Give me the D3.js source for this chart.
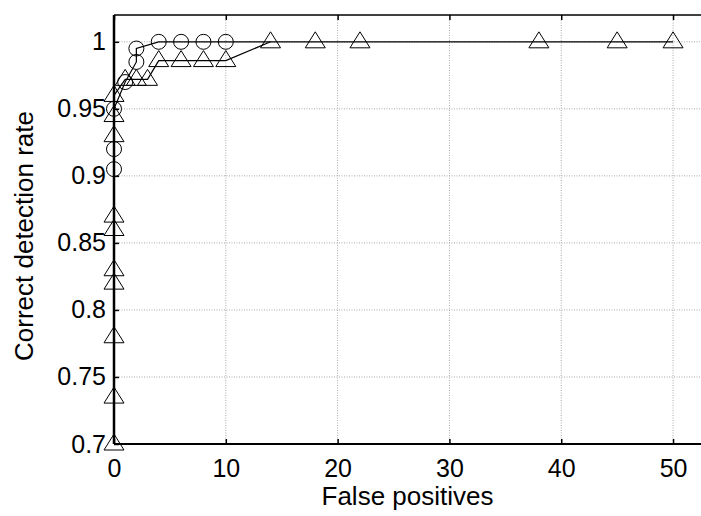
<!DOCTYPE html>
<html>
<head>
<meta charset="utf-8">
<script src="https://cdn.jsdelivr.net/npm/d3@7"></script>
<style>
  body { margin: 0; background: #fff; }
  text { font-family: "Liberation Sans", Arial, sans-serif; fill: #000; }
</style>
</head>
<body>
<div id="chart"></div>
<script>
// circle series (markers)
let circleX = [0, 0, 0, 1, 2, 2, 4, 6, 8, 10];
let circleY = [0.905, 0.92, 0.95, 0.97, 0.985, 0.995, 1, 1, 1, 1];
// circle line keeps going along 1 after the last marker
let circleTailX = [14];
let circleTailY = [1];

// triangle series
let triX = [0, 0, 0, 0, 0, 0, 0, 0, 0, 0, 1, 2, 3, 4, 6, 8, 10, 14, 18, 22, 38, 45, 50];
let triY = [0.70, 0.735, 0.78, 0.82, 0.83, 0.86, 0.87, 0.93, 0.945, 0.96,
            0.972, 0.972, 0.972, 0.986, 0.986, 0.986, 0.986, 1, 1, 1, 1, 1, 1];

let xTicks = [0, 10, 20, 30, 40, 50];
let yTicks = [0.7, 0.75, 0.8, 0.85, 0.9, 0.95, 1];
let yTickLabels = ["0.7", "0.75", "0.8", "0.85", "0.9", "0.95", "1"];

let svgWidth = 701;
let svgHeight = 516;

let plotLeft = 114, plotRight = 701, plotTop = 15, plotBottom = 444;

let svg = d3.select("#chart")
  .append("svg")
  .attr("width", svgWidth)
  .attr("height", svgHeight);

let xScale = d3.scaleLinear().domain([0, 52.5]).range([plotLeft, plotRight]);
let yScale = d3.scaleLinear().domain([0.7, 1.02]).range([plotBottom, plotTop]);

// grid
let grid = svg.append("g");
grid.selectAll(".gx")
  .data(xTicks.filter(d => d > 0))
  .enter().append("line")
  .attr("x1", d => xScale(d)).attr("x2", d => xScale(d))
  .attr("y1", plotTop).attr("y2", plotBottom)
  .attr("stroke", "#a8a8a8").attr("stroke-width", 1)
  .attr("stroke-dasharray", "1,1.5");
grid.selectAll(".gy")
  .data(yTicks.filter(d => d > 0.7))
  .enter().append("line")
  .attr("x1", plotLeft).attr("x2", plotRight)
  .attr("y1", d => yScale(d)).attr("y2", d => yScale(d))
  .attr("stroke", "#a8a8a8").attr("stroke-width", 1)
  .attr("stroke-dasharray", "1,1.5");

// axes (ticks point inward)
let bottomAxis = d3.axisBottom(xScale).tickValues(xTicks).tickSize(-5).tickSizeOuter(0).tickPadding(15);
let leftAxis = d3.axisLeft(yScale).tickValues(yTicks).tickSize(-5).tickSizeOuter(0).tickPadding(8)
  .tickFormat((d, i) => yTickLabels[i]);
let topAxis = d3.axisTop(xScale).tickValues(xTicks).tickSize(-5).tickSizeOuter(0).tickFormat("");

svg.append("g").attr("transform", `translate(0, ${plotBottom})`).call(bottomAxis);
svg.append("g").attr("transform", `translate(${plotLeft}, 0)`).call(leftAxis);
svg.append("g").attr("transform", `translate(0, ${plotTop})`).call(topAxis);

svg.selectAll(".domain").remove();
svg.selectAll(".tick line").attr("stroke", "#000").attr("stroke-width", 1.5);
svg.selectAll(".tick text")
  .style("font-size", "25px")
  .style("font-family", "'Liberation Sans', Arial, sans-serif")
  .attr("fill", "#000");

// box lines
svg.append("line").attr("x1", plotLeft).attr("x2", plotRight).attr("y1", plotBottom).attr("y2", plotBottom)
  .attr("stroke", "#000").attr("stroke-width", 2);
svg.append("line").attr("x1", plotLeft).attr("x2", plotRight).attr("y1", plotTop).attr("y2", plotTop)
  .attr("stroke", "#000").attr("stroke-width", 1.5);
svg.append("line").attr("x1", plotLeft).attr("x2", plotLeft).attr("y1", plotTop).attr("y2", plotBottom)
  .attr("stroke", "#000").attr("stroke-width", 2.5);

// lines
let line = d3.line().x(d => xScale(d[0])).y(d => yScale(d[1]));

let circlePts = circleX.map((x, i) => [x, circleY[i]]);
let circleLinePts = circlePts.concat(circleTailX.map((x, i) => [x, circleTailY[i]]));
let triPts = triX.map((x, i) => [x, triY[i]]);

svg.append("path").datum(circleLinePts).attr("d", line)
  .attr("fill", "none").attr("stroke", "#000").attr("stroke-width", 1.2);
svg.append("path").datum(triPts).attr("d", line)
  .attr("fill", "none").attr("stroke", "#000").attr("stroke-width", 1.2);

// markers
svg.append("g").selectAll("circle")
  .data(circlePts)
  .enter().append("circle")
  .attr("cx", d => xScale(d[0]))
  .attr("cy", d => yScale(d[1]))
  .attr("r", 7.5)
  .attr("fill", "none").attr("stroke", "#000").attr("stroke-width", 1);

svg.append("g").selectAll("path")
  .data(triPts)
  .enter().append("path")
  .attr("transform", d => `translate(${xScale(d[0])}, ${yScale(d[1])})`)
  .attr("d", "M0,-10L10,6L-10,6Z")
  .attr("fill", "none").attr("stroke", "#000").attr("stroke-width", 1);

// axis labels
svg.append("text")
  .attr("x", (plotLeft + plotRight) / 2)
  .attr("y", 505)
  .attr("text-anchor", "middle")
  .style("font-size", "26px")
  .text("False positives");

svg.append("text")
  .attr("transform", "translate(33, 236) rotate(-90)")
  .attr("text-anchor", "middle")
  .style("font-size", "26px")
  .text("Correct detection rate");
</script>
</body>
</html>
